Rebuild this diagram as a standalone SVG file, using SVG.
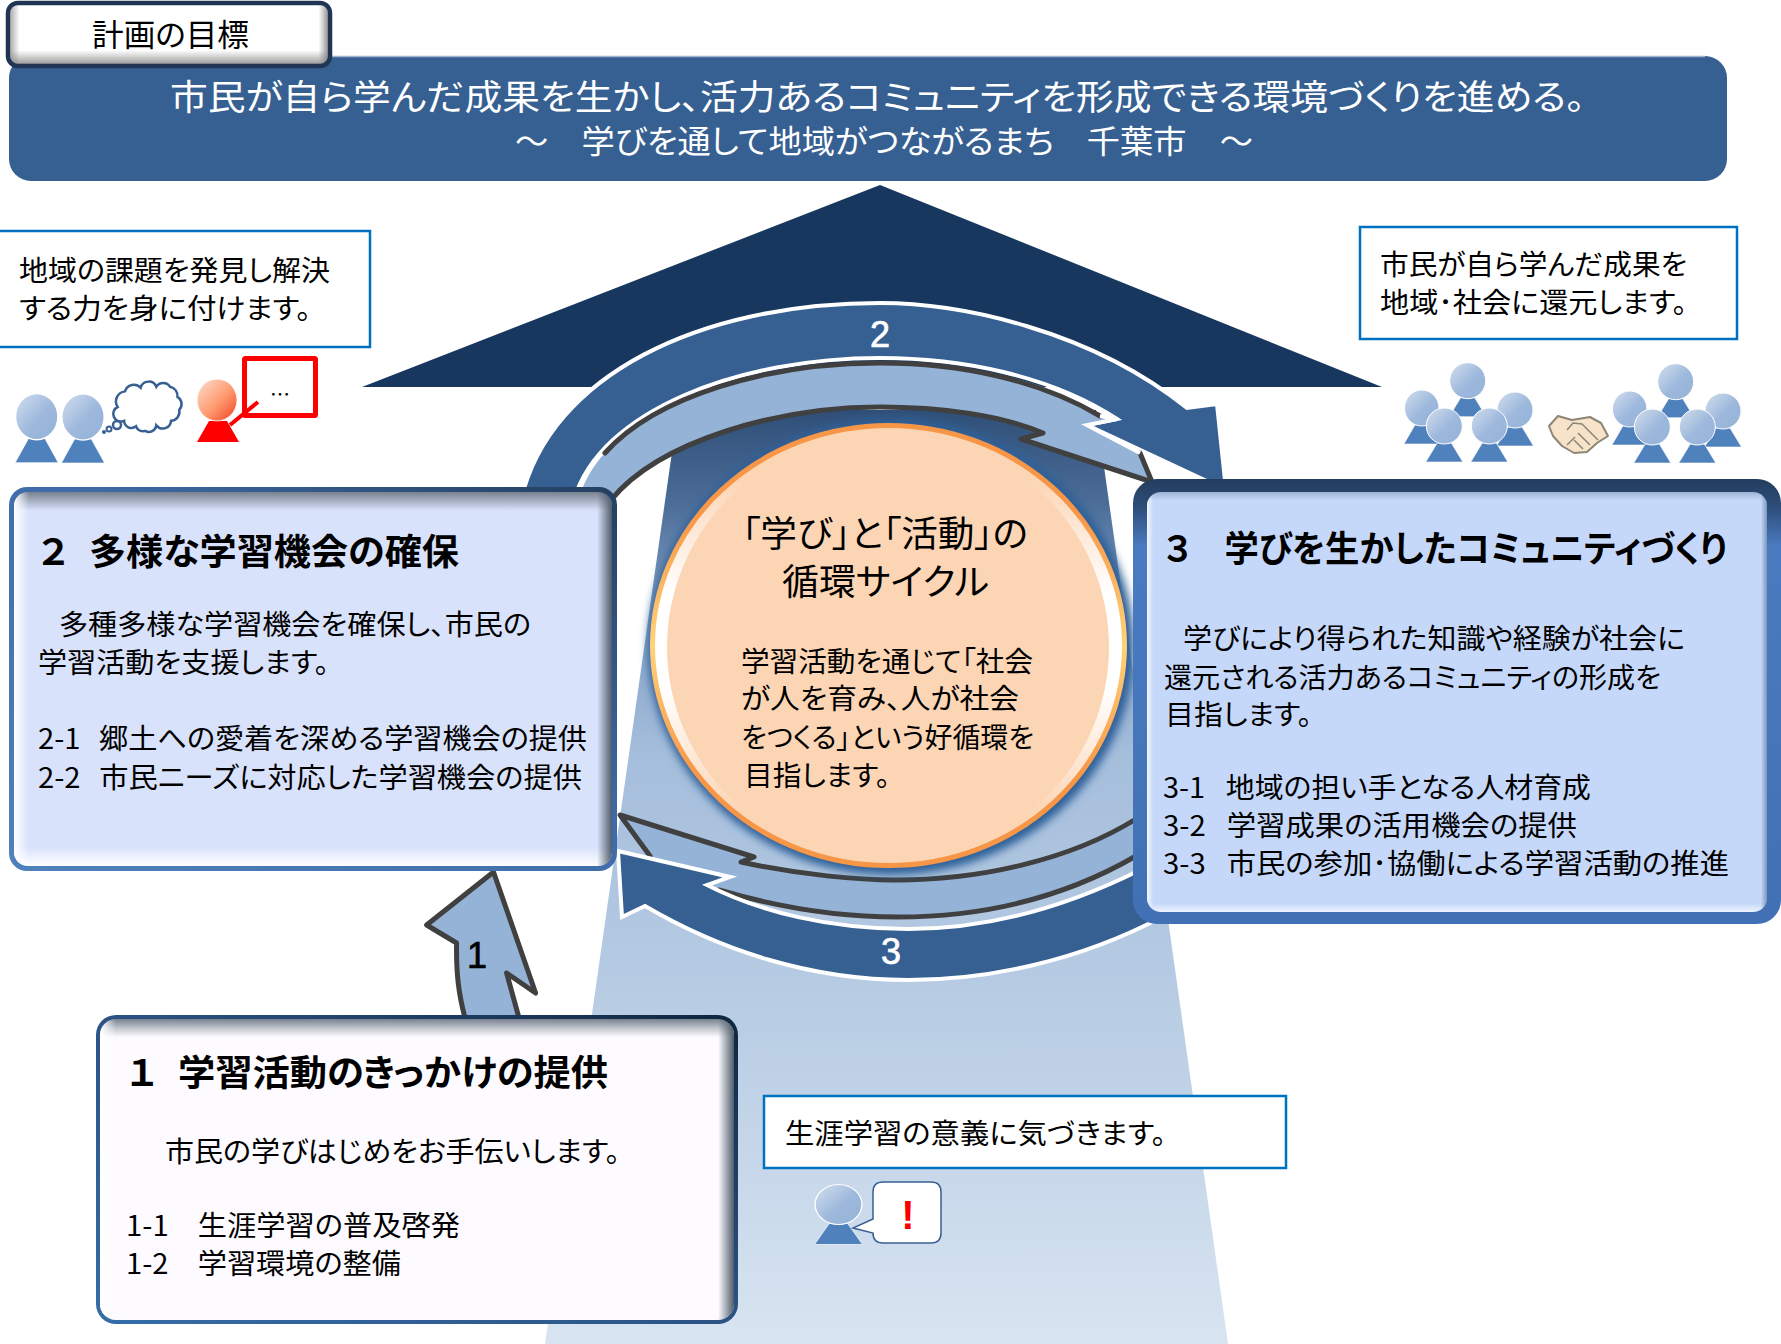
<svg xmlns="http://www.w3.org/2000/svg" xmlns:xlink="http://www.w3.org/1999/xlink" width="1781" height="1344" viewBox="0 0 1781 1344">
<style>
text{font-family:"Noto Sans CJK JP","Liberation Sans",sans-serif;fill:#000;font-feature-settings:"palt";white-space:pre}
.w{fill:#fff}
.b{font-weight:700}
.num{font-family:"Liberation Sans",sans-serif;font-size:36px;text-anchor:middle;stroke-width:.7}
.call{fill:#fff;stroke:#0070c0;stroke-width:2.5}
.gray{fill:none;stroke:#404040;stroke-width:5;stroke-linejoin:round;stroke-linecap:round}
.lite{fill:#95b3d7}
.dark{fill:#366092;stroke:#fff;stroke-width:4;stroke-linejoin:miter}
</style>
<defs>
<linearGradient id="col" gradientUnits="userSpaceOnUse" x1="0" y1="410" x2="0" y2="1344">
<stop offset="0" stop-color="#2f4f78"/><stop offset=".1" stop-color="#4c6d98"/><stop offset=".2" stop-color="#7d9bc2"/><stop offset=".37" stop-color="#a5bedc"/><stop offset=".65" stop-color="#b9cde4"/><stop offset="1" stop-color="#d8e4f1"/>
</linearGradient>
<linearGradient id="head" x1="0" y1="0" x2="1" y2="1"><stop offset="0" stop-color="#d3dfee"/><stop offset=".55" stop-color="#9db8dc"/><stop offset="1" stop-color="#94b2d8"/></linearGradient>
<linearGradient id="headR" x1="0" y1="0" x2="1" y2="1"><stop offset="0" stop-color="#fde0d0"/><stop offset=".55" stop-color="#ff9a70"/><stop offset="1" stop-color="#f04020"/></linearGradient>
<linearGradient id="bd2" x1="0" y1="1" x2="1" y2="0"><stop offset="0" stop-color="#4f81bd"/><stop offset=".55" stop-color="#3f6ca8"/><stop offset="1" stop-color="#243f60"/></linearGradient>
<linearGradient id="bd1" x1="0" y1="1" x2="1" y2="0"><stop offset="0" stop-color="#366da8"/><stop offset=".55" stop-color="#2a5080"/><stop offset="1" stop-color="#10263f"/></linearGradient>
<linearGradient id="bd3" x1="0" y1="0" x2="0" y2="1"><stop offset="0" stop-color="#233d5e"/><stop offset=".06" stop-color="#2c4c78"/><stop offset=".15" stop-color="#4a7abf"/><stop offset="1" stop-color="#4270b5"/></linearGradient>
<linearGradient id="v2" x1="0" y1="0" x2="0" y2="1"><stop offset="0" stop-color="#77818f"/><stop offset=".025" stop-color="#aab3c6"/><stop offset=".05" stop-color="#d9e2fb"/><stop offset=".95" stop-color="#d9e2fb"/><stop offset="1" stop-color="#fff"/></linearGradient>
<linearGradient id="v1" x1="0" y1="0" x2="0" y2="1"><stop offset="0" stop-color="#77818f"/><stop offset=".03" stop-color="#c0c4cc"/><stop offset=".06" stop-color="#fdfbff"/><stop offset="1" stop-color="#fdfbff"/></linearGradient>
<linearGradient id="v3" x1="0" y1="0" x2="0" y2="1"><stop offset="0" stop-color="#9eb3d4"/><stop offset=".02" stop-color="#c6d8fa"/><stop offset=".98" stop-color="#c6d8fa"/><stop offset="1" stop-color="#eef4ff"/></linearGradient>
<linearGradient id="h" x1="0" y1="0" x2="1" y2="0"><stop offset="0" stop-color="#fff"/><stop offset=".025" stop-color="#fff" stop-opacity="0"/><stop offset=".975" stop-color="#4f5c6c" stop-opacity="0"/><stop offset="1" stop-color="#4f5c6c"/></linearGradient>
<linearGradient id="h3" x1="0" y1="0" x2="1" y2="0"><stop offset="0" stop-color="#fff" stop-opacity=".8"/><stop offset=".01" stop-color="#fff" stop-opacity="0"/><stop offset=".99" stop-color="#5a7aa0" stop-opacity="0"/><stop offset="1" stop-color="#5a7aa0" stop-opacity=".7"/></linearGradient>
<linearGradient id="tabv" x1="0" y1="0" x2="0" y2="1"><stop offset="0" stop-color="#fff"/><stop offset=".75" stop-color="#fff"/><stop offset="1" stop-color="#8f8f8f"/></linearGradient>
<linearGradient id="tabh" x1="0" y1="0" x2="1" y2="0"><stop offset="0" stop-color="#888" stop-opacity=".7"/><stop offset=".03" stop-color="#888" stop-opacity="0"/><stop offset=".97" stop-color="#888" stop-opacity="0"/><stop offset="1" stop-color="#777" stop-opacity=".8"/></linearGradient>
<linearGradient id="ring" x1="0" y1="0" x2="0" y2="1"><stop offset=".12" stop-color="#fcd5b5"/><stop offset=".38" stop-color="#fff"/><stop offset=".6" stop-color="#fff"/><stop offset=".88" stop-color="#fcd5b5"/></linearGradient>
<linearGradient id="ringS" x1="0" y1="0" x2="0" y2="1"><stop offset=".2" stop-color="#f79646"/><stop offset=".5" stop-color="#ffd27a"/><stop offset=".8" stop-color="#f79646"/></linearGradient>
<filter id="blur" x="-10%" y="-10%" width="120%" height="120%"><feGaussianBlur stdDeviation="4"/></filter>
<g id="p"><polygon points="-7,17 7,17 18.5,36 -18.5,36" fill="#4f81bd" stroke="#fff" stroke-width=".6"/><ellipse rx="18" ry="18" fill="url(#head)" stroke="#fff" stroke-width="1"/></g>
</defs>

<g id="column"><polygon points="678,410 1096,410 1228,1344 545,1344" fill="url(#col)"/></g>
<g id="roof"><polygon points="880,185 1382,387 362,387" fill="#17375e"/></g>

<g id="header">
<rect x="9" y="56" width="1718" height="125" rx="22" fill="#366092"/>
<path d="M30,56.500 H1705" stroke="#9fb3cc" stroke-width="1.500"/>
<text class="w" x="170" y="110" font-size="35" textLength="1415" lengthAdjust="spacingAndGlyphs">市民が自ら学んだ成果を生かし、活力あるコミュニティを形成できる環境づくりを進める。</text>
<text class="w" x="515" y="153" font-size="32" textLength="738" lengthAdjust="spacingAndGlyphs">～　学びを通して地域がつながるまち　千葉市　～</text>
</g>
<g id="tab">
<rect x="8" y="3" width="322" height="63" rx="10" fill="url(#tabv)" stroke="#1f3553" stroke-width="4.500"/>
<rect x="10" y="5" width="318" height="59" rx="9" fill="url(#tabh)"/>
<text x="92" y="46" font-size="31" textLength="157" lengthAdjust="spacingAndGlyphs">計画の目標</text>
</g>

<g id="connectors">
<g id="arrow2">
<path class="dark" d="M521,500 C550,375 700,303 880,303 C960,303 1090,330 1187,408 L1217,404 L1226,490 L1087,425 L1117,419 C1050,375 960,358 880,358 C740,358 600,410 574,500 Z"/>
<path class="lite" d="M579,500 C600,415 740,362 880,362 C960,362 1050,378 1100,417 L1117,419 L1087,425 L1140,453 L1152,482 L1021,439 L1043,433 C1000,415 940,407 880,407 C780,407 660,440 611,500 Z"/>
<path class="gray" d="M605,453 C656,396 768,363 880,363 C960,363 1040,380 1100,416"/>
<path class="gray" d="M611,500 C660,440 780,407 880,407 C940,407 1000,415 1043,433 L1021,439 L1152,482 L1140,453"/>
<path d="M1100,416 L1117,419 L1087,425 L1140,453" fill="none" stroke="#fff" stroke-width="4"/>
<text class="num w" x="880" y="347" style="stroke:#fff">2</text>
</g>
<g id="arrow3">
<path class="lite" d="M620,815 L754,857 L741,862 C800,875 860,880 895,880 C980,880 1070,860 1140,817 L1140,854 C1060,900 980,917 898,917 C830,917 770,905 719,890 L650,856 Z"/>
<path class="gray" d="M1136,819 C1070,860 980,880 895,880 C860,880 800,875 741,862 L754,857 L620,815 L650,856"/>
<path class="gray" d="M719,890 C770,905 830,917 898,917 C980,917 1060,900 1136,856"/>
<path class="dark" d="M618,851 L730,877 L707,885 C760,912 830,929 908,929 C990,929 1070,905 1140,870 L1160,918 C1080,960 990,980 908,980 C810,980 720,950 645,906 L622,917 Z"/>
<text class="num w" x="891" y="964" style="stroke:#fff">3</text>
</g>
<g id="arrow1">
<path d="M493.500,872 L426.600,925 L456.600,943 C456,975 459,995 465,1018 L519,1018 L506.600,973 L535.600,993 Z" fill="#95b3d7" stroke="#404040" stroke-width="5" stroke-linejoin="round"/>
<text class="num" x="477" y="968" style="stroke:#000">1</text>
</g>
</g>

<g id="cycle">
<ellipse cx="891" cy="647" rx="243" ry="228" fill="#2f6099" filter="url(#blur)"/>
<ellipse cx="888.500" cy="645.500" rx="236" ry="220" fill="url(#ring)" stroke="url(#ringS)" stroke-width="5"/>
<ellipse cx="888" cy="647" rx="221" ry="215" fill="#fcd5b5"/>
<text x="742" y="547" font-size="36" textLength="286" lengthAdjust="spacingAndGlyphs">「学び」と「活動」の</text>
<text x="782" y="595" font-size="36" textLength="207" lengthAdjust="spacingAndGlyphs">循環サイクル</text>
<text x="741" y="672" font-size="28" textLength="292" lengthAdjust="spacingAndGlyphs">学習活動を通じて「社会</text>
<text x="741" y="709" font-size="28" textLength="278" lengthAdjust="spacingAndGlyphs">が人を育み、人が社会</text>
<text x="741" y="748" font-size="28" textLength="293" lengthAdjust="spacingAndGlyphs">をつくる」という好循環を</text>
<text x="744" y="786" font-size="28" textLength="146" lengthAdjust="spacingAndGlyphs">目指します。</text>
</g>

<g id="box2">
<rect x="9" y="487" width="608" height="384" rx="18" fill="url(#bd2)"/>
<rect x="14" y="492" width="598" height="374" rx="14" fill="url(#v2)"/>
<rect x="14" y="492" width="598" height="374" rx="14" fill="url(#h)"/>
<text class="b" x="39" y="565" font-size="36" textLength="420" lengthAdjust="spacingAndGlyphs">２<tspan font-size="21">　</tspan>多様な学習機会の確保</text>
<text x="59" y="635" font-size="28" textLength="472" lengthAdjust="spacingAndGlyphs">多種多様な学習機会を確保し、市民の</text>
<text x="38" y="673" font-size="28" textLength="291" lengthAdjust="spacingAndGlyphs">学習活動を支援します。</text>
<text x="38" y="749" font-size="28" textLength="549" lengthAdjust="spacingAndGlyphs">2-1<tspan font-size="18">　</tspan>郷土への愛着を深める学習機会の提供</text>
<text x="38" y="788" font-size="28" textLength="544" lengthAdjust="spacingAndGlyphs">2-2<tspan font-size="18">　</tspan>市民ニーズに対応した学習機会の提供</text>
</g>

<g id="box3">
<rect x="1133" y="479" width="648" height="445" rx="24" fill="url(#bd3)"/>
<rect x="1147" y="492" width="620" height="420" rx="14" fill="url(#v3)"/>
<rect x="1147" y="492" width="620" height="420" rx="14" fill="url(#h3)"/>
<text class="b" x="1164" y="562" font-size="36" textLength="563" lengthAdjust="spacingAndGlyphs">３　学びを生かしたコミュニティづくり</text>
<text x="1183" y="649" font-size="28" textLength="502" lengthAdjust="spacingAndGlyphs">学びにより得られた知識や経験が社会に</text>
<text x="1164" y="688" font-size="28" textLength="497" lengthAdjust="spacingAndGlyphs">還元される活力あるコミュニティの形成を</text>
<text x="1165" y="725" font-size="28" textLength="147" lengthAdjust="spacingAndGlyphs">目指します。</text>
<text x="1163" y="798" font-size="28" textLength="428" lengthAdjust="spacingAndGlyphs">3-1<tspan font-size="20">　</tspan>地域の担い手となる人材育成</text>
<text x="1163" y="836" font-size="28" textLength="414" lengthAdjust="spacingAndGlyphs">3-2<tspan font-size="20">　</tspan>学習成果の活用機会の提供</text>
<text x="1163" y="874" font-size="28" textLength="566" lengthAdjust="spacingAndGlyphs">3-3<tspan font-size="20">　</tspan>市民の参加･協働による学習活動の推進</text>
</g>

<g id="box1">
<rect x="96" y="1015" width="642" height="309" rx="20" fill="url(#bd1)"/>
<rect x="100" y="1019" width="634" height="301" rx="16" fill="url(#v1)"/>
<rect x="100" y="1019" width="634" height="301" rx="16" fill="url(#h)"/>
<text class="b" x="128" y="1086" font-size="36" textLength="480" lengthAdjust="spacingAndGlyphs">１<tspan font-size="21">　</tspan>学習活動のきっかけの提供</text>
<text x="165" y="1162" font-size="28" textLength="455" lengthAdjust="spacingAndGlyphs">市民の学びはじめをお手伝いします。</text>
<text x="126" y="1236" font-size="28" textLength="334" lengthAdjust="spacingAndGlyphs">1-1　生涯学習の普及啓発</text>
<text x="126" y="1274" font-size="28" textLength="275" lengthAdjust="spacingAndGlyphs">1-2　学習環境の整備</text>
</g>

<g id="note-left">
<rect class="call" x="-3" y="231" width="373" height="116"/>
<text x="19" y="281" font-size="28" textLength="311" lengthAdjust="spacingAndGlyphs">地域の課題を発見し解決</text>
<text x="19" y="319" font-size="28" textLength="292" lengthAdjust="spacingAndGlyphs">する力を身に付けます。</text>
</g>
<g id="note-right">
<rect class="call" x="1360" y="227" width="377" height="112"/>
<text x="1380" y="275" font-size="28" textLength="307" lengthAdjust="spacingAndGlyphs">市民が自ら学んだ成果を</text>
<text x="1380" y="313" font-size="28" textLength="307" lengthAdjust="spacingAndGlyphs">地域･社会に還元します。</text>
</g>
<g id="note-bottom">
<rect class="call" x="764" y="1096" width="522" height="72"/>
<text x="785" y="1144" font-size="28" textLength="381" lengthAdjust="spacingAndGlyphs">生涯学習の意義に気づきます。</text>
</g>

<g id="people-left">
<use href="#p" transform="translate(36.700,416.700) scale(1.170,1.280)"/>
<use href="#p" transform="translate(83,417) scale(1.170,1.280)"/>
<path transform="translate(148,407) scale(.92) translate(-148,-405)" d="M115,405 A11,11 0 0 1 123,388 A10,10 0 0 1 140,384 A9,9 0 0 1 157,383 A9,9 0 0 1 172,383 A10,10 0 0 1 180,394 A9,9 0 0 1 182,408 A10,10 0 0 1 173,420 A9,9 0 0 1 157,425 A8,8 0 0 1 145,431 A8,8 0 0 1 135,426 A8,8 0 0 1 122,420 A8,8 0 0 1 115,405 Z" fill="#fff" stroke="#366092" stroke-width="2.700"/>
<circle cx="117" cy="425" r="4" fill="#fff" stroke="#366092" stroke-width="2.500"/>
<circle cx="109" cy="429" r="2.500" fill="#fff" stroke="#366092" stroke-width="2"/>
<circle cx="104" cy="432" r="2" fill="#366092"/>
</g>
<g id="person-red">
<polygon points="209,421 227,421 239,442 197,442" fill="#f00"/>
<ellipse cx="217" cy="400" rx="20" ry="21" fill="url(#headR)" stroke="#fff" stroke-width=".8"/>
<rect x="244.500" y="358.500" width="71" height="57" rx="1" fill="#fff" stroke="#f00" stroke-width="5"/>
<path d="M230,425 L258,402" stroke="#f00" stroke-width="4"/>
<text x="280" y="402" font-size="20" text-anchor="middle">…</text>
</g>
<g id="people-right">
<g id="group-a">
<use href="#p" transform="translate(1467.700,380.700)"/>
<use href="#p" transform="translate(1421.700,408) scale(.960,1)"/>
<use href="#p" transform="translate(1515,410)"/>
<use href="#p" transform="translate(1444.300,426)"/>
<use href="#p" transform="translate(1489.300,426)"/>
</g>
<g id="group-b" transform="translate(208,1)">
<use href="#p" transform="translate(1467.700,380.700)"/>
<use href="#p" transform="translate(1421.700,408) scale(.960,1)"/>
<use href="#p" transform="translate(1515,410)"/>
<use href="#p" transform="translate(1444.300,426)"/>
<use href="#p" transform="translate(1489.300,426)"/>
</g>
<g id="handshake">
<path d="M1549,426 L1558,416 L1572,420 L1590,417 L1601,423 L1608,436 L1597,443 L1587,452 L1574,453 L1562,446 L1553,436 Z" fill="#f7e3ca" stroke="#8d8676" stroke-width="2" stroke-linejoin="round"/>
<path d="M1567,430 L1573,423 L1582,424 L1598,440 M1590,445 L1578,433 M1583,449 L1574,440 M1567,445 L1575,437" fill="none" stroke="#8d8676" stroke-width="1.500"/>
</g>
</g>
<g id="person-bottom">
<use href="#p" transform="translate(838.500,1204.500) scale(1.300,1.110)"/>
<path d="M883,1182 H931 Q941,1182 941,1192 V1233 Q941,1243 931,1243 H883 Q873,1243 873,1233 L853,1228 L873,1219 V1192 Q873,1182 883,1182 Z" fill="#fff" stroke="#366092" stroke-width="1.500"/>
<text x="908" y="1229" font-size="40" font-weight="700" text-anchor="middle" style="fill:#f00;font-family:'Liberation Sans',sans-serif">!</text>
</g>
</svg>
